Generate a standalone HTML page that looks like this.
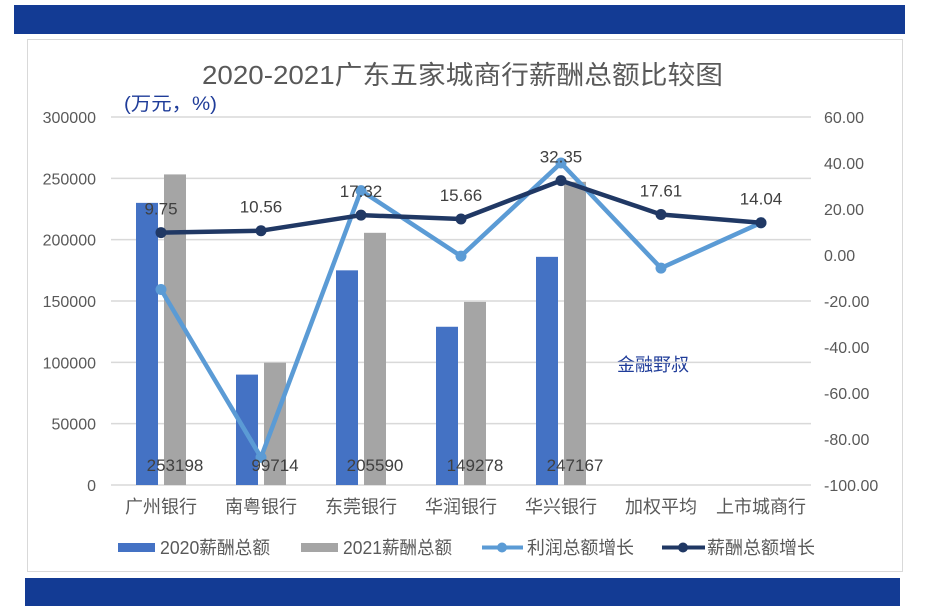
<!DOCTYPE html>
<html><head><meta charset="utf-8"><style>
body{margin:0;background:#fff;}
svg{display:block;font-family:"Liberation Sans","Noto Sans CJK SC",sans-serif;}
</style></head><body>
<svg id="chart" width="931" height="609" viewBox="0 0 931 609">
<rect x="14" y="5" width="891" height="29" fill="#133b94"/>
<rect x="25" y="578" width="875" height="28" fill="#133b94"/>
<rect x="27.5" y="39.5" width="875" height="532" fill="#fff" stroke="#d9d9d9"/>
<text x="202" y="84" font-size="26" fill="#595959" textLength="521" lengthAdjust="spacingAndGlyphs">2020-2021广东五家城商行薪酬总额比较图</text>
<text x="124" y="110" font-size="19" fill="#1f3c99" textLength="93" lengthAdjust="spacingAndGlyphs">(万元，%)</text>
<text x="653" y="371" font-size="18" fill="#1f3c99" text-anchor="middle">金融野叔</text>
<g id="grid"></g><g id="bars"></g><g id="lines"></g><g id="labels"></g><g id="legend"></g>
</svg>
<script>
const categories=["广州银行","南粤银行","东莞银行","华润银行","华兴银行","加权平均","上市城商行"];
const pay2020=[230000,90000,175000,129000,186000,null,null];
const pay2021=[253198,99714,205590,149278,247167,null,null];
const profitGrowth=[-15,-88,28,-0.5,40,-5.7,14];
const payGrowth=[9.75,10.56,17.32,15.66,32.35,17.61,14.04];
const leftTicks=[0,50000,100000,150000,200000,250000,300000];
const rightTicks=[-100,-80,-60,-40,-20,0,20,40,60];
const NS="http://www.w3.org/2000/svg";
const X0=111,X1=811,YT=117,YB=485;
const band=(X1-X0)/categories.length;
const xc=i=>X0+band*(i+0.5);
const yL=v=>YB-(v/300000)*(YB-YT);
const yR=v=>YB-((v+100)/160)*(YB-YT);
function mk(tag,attrs,parent,txt){const e=document.createElementNS(NS,tag);for(const k in attrs)e.setAttribute(k,attrs[k]);if(txt!==undefined)e.textContent=txt;document.getElementById(parent).appendChild(e);return e;}
leftTicks.forEach(t=>{
 const g=mk("line",{x1:X0,x2:X1,y1:yL(t),y2:yL(t),stroke:"#d9d9d9","stroke-width":1.5},"grid");
 
 
 const l=mk("text",{x:96,y:yL(t)+6,"font-size":16,fill:"#595959","text-anchor":"end"},"grid",String(t));
 
 
});
rightTicks.forEach(t=>{
 const l=mk("text",{x:824,y:yR(t)+6,"font-size":16,fill:"#595959"},"grid",t.toFixed(2));
 
 
});
categories.forEach((c,i)=>{
 const l=mk("text",{x:xc(i),y:513,"font-size":18,fill:"#595959","text-anchor":"middle"},"grid",c);
 
 
 if(pay2020[i]!=null){
  const b=mk("rect",{x:xc(i)-25,y:yL(pay2020[i]),width:22,height:YB-yL(pay2020[i]),fill:"#4472c4"},"bars");
  
  
 }
 if(pay2021[i]!=null){
  const b=mk("rect",{x:xc(i)+3,y:yL(pay2021[i]),width:22,height:YB-yL(pay2021[i]),fill:"#a5a5a5"},"bars");
  
  
  const t=mk("text",{x:xc(i)+14,y:471,"font-size":17,fill:"#404040","text-anchor":"middle"},"labels",String(pay2021[i]));
  
  
 }
});
function series(vals,color,name){
 const pts=vals.map((v,i)=>xc(i)+","+yR(v)).join(" ");
 const p=mk("polyline",{points:pts,fill:"none",stroke:color,"stroke-width":4.5,"stroke-linejoin":"round"},"lines");
 
 
 vals.forEach((v,i)=>{
  const c=mk("circle",{cx:xc(i),cy:yR(v),r:5.5,fill:color},"lines");
  
  
 });
}
series(profitGrowth,"#5b9bd5","profit-growth");
series(payGrowth,"#203864","pay-growth");
payGrowth.forEach((v,i)=>{
 const t=mk("text",{x:xc(i),y:yR(v)-18,"font-size":17,fill:"#404040","text-anchor":"middle"},"labels",v.toFixed(2));
 
 
});
// legend
let r;
r=mk("rect",{x:118,y:543,width:37,height:9,fill:"#4472c4"},"legend");


r=mk("rect",{x:301,y:543,width:37,height:9,fill:"#a5a5a5"},"legend");


r=mk("line",{x1:482,x2:523,y1:547.5,y2:547.5,stroke:"#5b9bd5","stroke-width":4},"legend");


r=mk("circle",{cx:502,cy:547.5,r:5,fill:"#5b9bd5"},"legend");


r=mk("line",{x1:662,x2:705,y1:547.5,y2:547.5,stroke:"#203864","stroke-width":4},"legend");


r=mk("circle",{cx:683,cy:547.5,r:5,fill:"#203864"},"legend");


[[160,"2020薪酬总额",110],[343,"2021薪酬总额",109],[527,"利润总额增长",107],[707,"薪酬总额增长",108]].forEach(([x,t,w])=>{
 const e=mk("text",{x:x,y:554,"font-size":18,fill:"#595959",textLength:w,lengthAdjust:"spacingAndGlyphs"},"legend",t);
 
 
});
</script>
</body></html>
